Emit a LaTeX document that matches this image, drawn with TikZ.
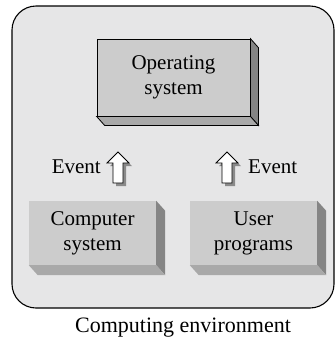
\documentclass[tikz,border=0pt]{standalone}
\usepackage{fontspec}
\setmainfont{Liberation Serif}
\usetikzlibrary{calc}
\definecolor{envbg}{HTML}{E6E6E7}
\definecolor{frontc}{HTML}{CCCCCC}
\definecolor{sidec}{HTML}{858585}
\definecolor{bottomc}{HTML}{A9A9A9}
\definecolor{shadowc}{HTML}{8A8A8A}
\tikzset{
  txt/.style={font=\fontsize{21}{25}\selectfont, align=center, inner sep=0pt},
  frontbox/.style={fill=frontc, minimum width=#1, minimum height=64, inner sep=0pt, txt},
  arrowline/.style={fill=white, draw=black, line width=0.8pt, line join=miter},
  arrowshadow/.style={fill=shadowc},
}
\newcommand\boxfaces[4]{% node, dx, dy, outline
  \fill[sidec, draw=#4, line width=0.8pt] (#1.north east) -- ++(#2,#3) -- ($(#1.south east)+(#2,#3)$) -- (#1.south east) -- cycle;
  \fill[bottomc, draw=#4, line width=0.8pt] (#1.south west) -- (#1.south east) -- ++(#2,#3) -- ($(#1.south west)+(#2,#3)$) -- cycle;
}
\newcommand\eventarrow[2]{% coordinate (tip), style
  \path[#2] (#1) -- ++(11,11) -- ++(-6,0) -- ++(0,20) -- ++(-10,0) -- ++(0,-20) -- ++(-6,0) -- cycle;
}
\begin{document}
\begin{tikzpicture}[x=1pt,y=-1pt]
\useasboundingbox (0,0) rectangle (335,338);
\node[draw=black, line width=1.1pt, fill=envbg, rounded corners=24pt, minimum width=322, minimum height=302, inner sep=0pt] (env) at (173,157) {};
% Operating system
\node[frontbox=153, minimum height=77, draw=black, line width=0.8pt] (os) at (173.5,77.5) {Operating\\system};
\boxfaces{os}{8}{9}{black}
\node[frontbox=153, minimum height=77, draw=black, line width=0.8pt] at (os) {Operating\\system};
% lower boxes
\node[frontbox=127] (cs) at (92.5,233) {Computer\\system};
\boxfaces{cs}{9}{10}{none}
\node[frontbox=127] (up) at (253.5,233) {User\\programs};
\boxfaces{up}{9}{10}{none}
% arrows
\coordinate (sh1) at (121,155);
\coordinate (ar1) at (118,152);
\coordinate (sh2) at (230,155);
\coordinate (ar2) at (227,152);
\eventarrow{sh1}{arrowshadow}
\eventarrow{ar1}{arrowline}
\eventarrow{sh2}{arrowshadow}
\eventarrow{ar2}{arrowline}
\node[txt, anchor=base east] (ev1) at (101,173) {Event};
\node[txt, anchor=base west] (ev2) at (248,173) {Event};
% caption
\node[txt, font=\fontsize{22}{26}\selectfont, anchor=base west] (cap) at (75,332) {Computing environment};
\end{tikzpicture}
\end{document}
